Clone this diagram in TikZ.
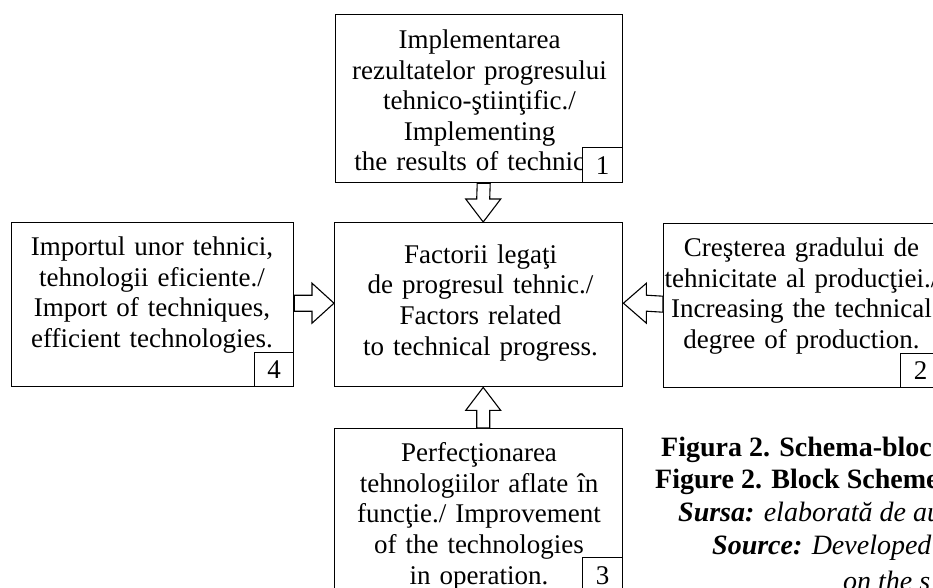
\documentclass[tikz,border=0pt]{standalone}
\usepackage{fontspec}
\setmainfont{Liberation Serif}
\usetikzlibrary{calc}
\begin{document}
\begin{tikzpicture}[x=1pt,y=-1pt,
  box/.style={draw, line width=1.4pt, fill=white, inner sep=0pt, anchor=north west},
  numbox/.style={draw, line width=1.4pt, fill=white, inner sep=0pt, anchor=north west,
    minimum width=40pt, minimum height=35pt, font=\fontsize{27}{30}\selectfont},
  txt/.style={font=\fontsize{27}{30.6}\selectfont, align=center, text width=320pt,
    inner sep=0pt, anchor=base},
  captxt/.style={font=\fontsize{28}{33}\selectfont, inner sep=0pt, anchor=base west},
  barrow/.style={draw, line width=1.1pt, fill=white, line join=miter}]
\useasboundingbox (0,0) rectangle (933,588);
\fill[white] (0,0) rectangle (933,588);
\clip (0,0) rectangle (933,588);

% main boxes
\node[box, minimum width=287pt, minimum height=168pt] (top) at (335,14) {};
\node[box, minimum width=288pt, minimum height=164pt] (cen) at (334,222) {};
\node[box, minimum width=282pt, minimum height=164pt] (lft) at (11,222) {};
\node[box, minimum width=277pt, minimum height=164pt] (rgt) at (663,223) {};
\node[box, minimum width=288pt, minimum height=164pt] (bot) at (334,428) {};

% block arrows
\draw[barrow] ($(top.south)+(-2,0)$) -- ($(cen.north)+(-2,-23)$) -- ($(cen.north)+(-13,-23)$)
  -- ($(cen.north)+(4.5,0)$) -- ($(cen.north)+(22,-23)$) -- ($(cen.north)+(11,-23)$)
  -- ($(top.south)+(11,0)$) -- cycle;
\draw[barrow] ($(bot.north)+(-2,0)$) -- ($(cen.south)+(-2,23)$) -- ($(cen.south)+(-13,23)$)
  -- ($(cen.south)+(4.5,0)$) -- ($(cen.south)+(22,23)$) -- ($(cen.south)+(11,23)$)
  -- ($(bot.north)+(11,0)$) -- cycle;
\draw[barrow] ($(lft.east)+(0,-9.5)$) -- ($(cen.west)+(-22,-9.5)$) -- ($(cen.west)+(-22,-21.5)$)
  -- ($(cen.west)+(0,-1.5)$) -- ($(cen.west)+(-22,18.5)$) -- ($(cen.west)+(-22,6.5)$)
  -- ($(lft.east)+(0,6.5)$) -- cycle;
\draw[barrow] ($(rgt.west)+(0,-9.5)$) -- ($(cen.east)+(23,-9.5)$) -- ($(cen.east)+(23,-21.5)$)
  -- ($(cen.east)+(0,-1.5)$) -- ($(cen.east)+(23,18.5)$) -- ($(cen.east)+(23,6.5)$)
  -- ($(rgt.west)+(0,6.5)$) -- cycle;

% texts
\node[txt] (ttop) at (479.5,48.5) {Implementarea\\rezultatelor progresului\\tehnico-ştiinţific./\\Implementing\\the results of technical};
\node[txt] (tcen) at (480.5,263.3) {Factorii legaţi\\de progresul tehnic./\\Factors related\\to technical progress.};
\node[txt] (tlft) at (152,255.7) {Importul unor tehnici,\\tehnologii eficiente./\\Import of techniques,\\efficient technologies.};
\node[txt] (trgt) at (801.5,256.7) {Creşterea gradului de\\tehnicitate al producţiei./\\Increasing the technical\\degree of production.};
\node[txt] (tbot) at (479,461.7) {Perfecţionarea\\tehnologiilor aflate în\\funcţie./ Improvement\\of the technologies\\in operation.};

% number boxes
\node[numbox] (n1) at (582,147) {1};
\node[numbox, minimum width=39pt, minimum height=34pt] (n4) at (254,352) {4};
\node[numbox, minimum height=34pt] (n2) at (900,353) {2};
\node[numbox] (n3) at (582,557) {3};

% caption
\node[captxt] (c1) at (661,456) {\bfseries Figura 2. Schema-bloc};
\node[captxt] (c2) at (655,488) {\bfseries Figure 2. Block Scheme};
\node[captxt] (c3) at (678,521) {\bfseries\itshape Sursa: \mdseries elaborată de au};
\node[captxt] (c4) at (712,554) {\bfseries\itshape Source: \mdseries Developed};
\node[captxt] (c5) at (843,590) {\itshape on the s};
\end{tikzpicture}
\end{document}
